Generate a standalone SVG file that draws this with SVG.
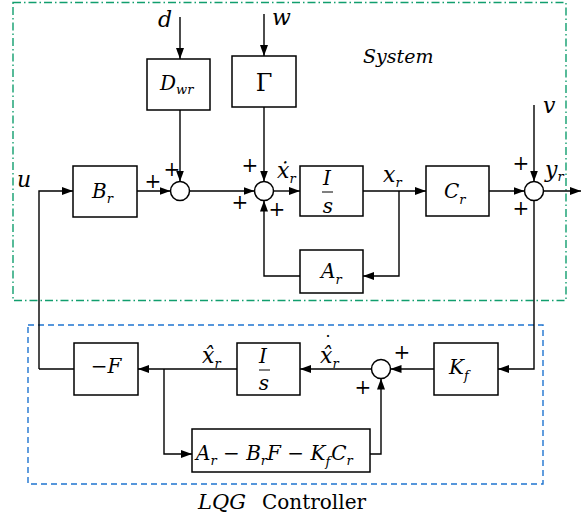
<svg xmlns="http://www.w3.org/2000/svg" width="585" height="521" viewBox="0 0 585 521" font-family="DejaVu Serif, Liberation Serif, serif">
<style>
.blk{fill:#fff;stroke:#000;stroke-width:1.5}
.sum{fill:#fff;stroke:#000;stroke-width:1.5}
.ln{fill:none;stroke:#000;stroke-width:1.4}
.arr{fill:none;stroke:#000;stroke-width:1.4;marker-end:url(#ah)}
.t{font-style:italic;font-size:20px;fill:#000}
.u{font-size:20px;fill:#000}
.sub{font-size:13px}
.pl{font-size:20px;fill:#000;text-anchor:middle}
.lab{font-style:italic;font-size:22px;fill:#000}
</style>
<defs>
<marker id="ah" markerUnits="userSpaceOnUse" markerWidth="11" markerHeight="8" refX="11" refY="4" orient="auto">
<path d="M0,0 L11,4 L0,8 z" fill="#000"/>
</marker>
</defs>

<g id="system-frame">
<rect x="13" y="2.5" width="553" height="298" fill="none" stroke="#119e6e" stroke-width="1.4" stroke-dasharray="8,3,1.5,3"/>
<text x="363" y="63" class="t" style="font-size:19px">System</text>
</g>
<g id="controller-frame">
<rect x="28" y="325" width="515" height="159" fill="none" stroke="#1f74d0" stroke-width="1.4" stroke-dasharray="6,4"/>
<text x="198" y="509" class="t" style="font-size:21px">LQG</text>
<text x="262" y="509" class="u" style="font-size:20px">Controller</text>
</g>

<g id="connectors">
<line class="arr" x1="180" y1="17" x2="180" y2="59"/>
<line class="arr" x1="264" y1="14" x2="264" y2="56"/>
<line class="arr" x1="180" y1="110" x2="180" y2="181.5"/>
<line class="arr" x1="264" y1="107" x2="264" y2="181.5"/>
<polyline class="arr" points="39,369 39,191 73,191"/>
<line class="arr" x1="137" y1="191" x2="170.5" y2="191"/>
<line class="arr" x1="189.5" y1="191" x2="254.5" y2="191"/>
<line class="arr" x1="273.5" y1="191" x2="300" y2="191"/>
<line class="arr" x1="363" y1="191" x2="426" y2="191"/>
<polyline class="arr" points="399,191 399,276 363,276"/>
<polyline class="arr" points="300,276 264,276 264,200.5"/>
<line class="arr" x1="489" y1="191" x2="524.5" y2="191"/>
<line class="arr" x1="534" y1="105" x2="534" y2="181.5"/>
<line class="arr" x1="543.5" y1="191" x2="581" y2="191"/>
<polyline class="arr" points="534,200.5 534,369 498,369"/>
<line class="arr" x1="434" y1="369" x2="390.5" y2="369"/>
<line class="arr" x1="371.5" y1="369" x2="300" y2="369"/>
<line class="arr" x1="237" y1="369" x2="138" y2="369"/>
<polyline class="arr" points="164,369 164,454 192,454"/>
<polyline class="arr" points="370,454 381,454 381,378.5"/>
<line class="ln" x1="74" y1="369" x2="39" y2="369"/>
</g>

<g id="signals">
<text x="158" y="27" class="lab">d</text>
<text x="272" y="25" class="lab">w</text>
<text x="17" y="187" class="lab">u</text>
<text x="543" y="113" class="lab">v</text>
<text x="277" y="178" class="lab">ẋ<tspan class="sub" dy="5">r</tspan></text>
<text x="383" y="182" class="lab">x<tspan class="sub" dy="5">r</tspan></text>
<text x="545" y="177" class="lab">y<tspan class="sub" dy="4">r</tspan></text>
<text x="202" y="363" class="lab">x̂<tspan class="sub" dy="5">r</tspan></text>
<text x="320" y="363" class="lab">x̂<tspan class="sub" dy="5">r</tspan></text>
<text x="328" y="349" class="u" style="font-size:18px" text-anchor="middle">˙</text>
</g>

<g id="Dwr"><rect class="blk" x="147" y="59" width="63" height="51"/><text x="160" y="90" class="t">D<tspan class="sub" dy="4">wr</tspan></text></g>
<g id="Gamma"><rect class="blk" x="232" y="56" width="64" height="51"/><text x="264" y="91" class="u" style="font-size:24px" text-anchor="middle">Γ</text></g>
<g id="Br"><rect class="blk" x="73" y="166" width="64" height="51"/><text x="92" y="198" class="t">B<tspan class="sub" dy="5">r</tspan></text></g>
<g id="sum1"><circle class="sum" cx="180" cy="191" r="9.5"/><text x="172" y="176" class="pl">+</text><text x="153" y="188" class="pl">+</text></g>
<g id="sum2"><circle class="sum" cx="264" cy="191" r="9.5"/><text x="250" y="172" class="pl">+</text><text x="240" y="209" class="pl">+</text><text x="277" y="216" class="pl">+</text></g>
<g id="integrator1"><rect class="blk" x="300" y="166" width="63" height="50"/><text x="327" y="185" class="t" text-anchor="middle">I</text><line x1="322" y1="192" x2="333" y2="192" stroke="#000" stroke-width="1"/><text x="328" y="213" class="t" text-anchor="middle">s</text></g>
<g id="Cr"><rect class="blk" x="426" y="166" width="63" height="50"/><text x="444" y="198" class="t">C<tspan class="sub" dy="6">r</tspan></text></g>
<g id="Ar"><rect class="blk" x="300" y="250" width="63" height="43"/><text x="321" y="278" class="t">A<tspan class="sub" dy="6">r</tspan></text></g>
<g id="sum3"><circle class="sum" cx="534" cy="191" r="9.5"/><text x="521" y="170" class="pl">+</text><text x="521" y="215" class="pl">+</text></g>
<g id="Kf"><rect class="blk" x="434" y="343" width="64" height="52"/><text x="449" y="374" class="t">K<tspan class="sub" dy="6">f</tspan></text></g>
<g id="sum4"><circle class="sum" cx="381" cy="369" r="9.5"/><text x="402" y="359" class="pl">+</text><text x="363" y="394" class="pl">+</text></g>
<g id="integrator2"><rect class="blk" x="237" y="343" width="63" height="52"/><text x="263" y="363" class="t" text-anchor="middle">I</text><line x1="259" y1="370" x2="270" y2="370" stroke="#000" stroke-width="1"/><text x="264" y="390" class="t" text-anchor="middle">s</text></g>
<g id="minusF"><rect class="blk" x="74" y="343" width="64" height="52"/><text x="106" y="373" class="t" text-anchor="middle"><tspan style="font-style:normal">−</tspan>F</text></g>
<g id="filterDyn"><rect class="blk" x="192" y="429" width="178" height="43"/><text x="196" y="460" class="t" style="font-size:20px">A<tspan class="sub" dy="5">r</tspan><tspan dy="-5" style="font-style:normal"> − </tspan>B<tspan class="sub" dy="5">r</tspan><tspan dy="-5">F</tspan><tspan style="font-style:normal"> − </tspan>K<tspan class="sub" dy="6">f</tspan><tspan dy="-6" dx="1">C</tspan><tspan class="sub" dy="5">r</tspan></text></g>
</svg>
